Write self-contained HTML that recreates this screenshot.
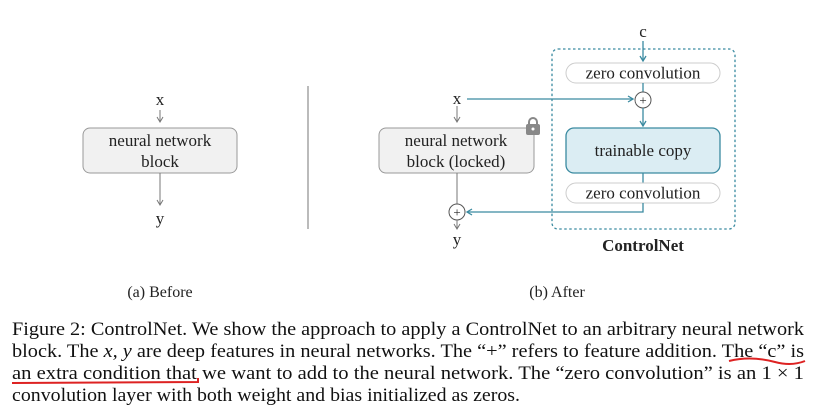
<!DOCTYPE html>
<html><head><meta charset="utf-8"><style>
html,body{margin:0;padding:0;background:#fff;}
svg{display:block;}
text{font-family:"Liberation Serif",serif;}
</style></head><body>
<svg width="829" height="419" viewBox="0 0 829 419" xmlns="http://www.w3.org/2000/svg">
<defs>
<marker id="ag" markerWidth="8" markerHeight="8" refX="6" refY="4" orient="auto" markerUnits="userSpaceOnUse"><path d="M1,1 L6,4 L1,7" fill="none" stroke="#777" stroke-width="1"/></marker>
<marker id="ab" markerWidth="8" markerHeight="8" refX="6" refY="4" orient="auto" markerUnits="userSpaceOnUse"><path d="M1,1 L6,4 L1,7" fill="none" stroke="#3a8aa0" stroke-width="1.3"/></marker>
</defs>
<g font-size="17" fill="#222" text-anchor="middle">
<!-- Left panel -->
<text x="160" y="105">x</text>
<line x1="160" y1="110" x2="160" y2="122" stroke="#777" stroke-width="1" marker-end="url(#ag)"/>
<rect x="83" y="128" width="154" height="45" rx="7" fill="#f1f1f1" stroke="#999" stroke-width="1"/>
<text x="160" y="146">neural network</text>
<text x="160" y="167">block</text>
<line x1="160" y1="173" x2="160" y2="205" stroke="#777" stroke-width="1" marker-end="url(#ag)"/>
<text x="160" y="224">y</text>
<line x1="308" y1="86" x2="308" y2="229" stroke="#777" stroke-width="1"/>
<text x="160" y="297" font-size="16">(a) Before</text>
<!-- Right panel -->
<rect x="552" y="49" width="183" height="180" rx="6" fill="none" stroke="#3a8aa0" stroke-width="1.3" stroke-dasharray="2.5,2.5"/>
<text x="643" y="37">c</text>
<line x1="643" y1="41" x2="643" y2="61" stroke="#3a8aa0" stroke-width="1.3" marker-end="url(#ab)"/>
<rect x="566" y="63" width="154" height="20" rx="10" fill="#fff" stroke="#ccc" stroke-width="1"/>
<text x="643" y="78.5">zero convolution</text>
<line x1="643" y1="83" x2="643" y2="92" stroke="#3a8aa0" stroke-width="1.3"/>
<text x="457" y="104">x</text>
<line x1="467" y1="99" x2="633" y2="99" stroke="#3a8aa0" stroke-width="1.3" marker-end="url(#ab)"/>
<circle cx="643" cy="100" r="8" fill="#fff" stroke="#555" stroke-width="1"/>
<text x="643" y="104.5" font-size="13">+</text>
<line x1="643" y1="108" x2="643" y2="126" stroke="#3a8aa0" stroke-width="1.3" marker-end="url(#ab)"/>
<rect x="566" y="128" width="154" height="45" rx="8" fill="#dbedf3" stroke="#3a8aa0" stroke-width="1.3"/>
<text x="643" y="156">trainable copy</text>
<line x1="643" y1="173" x2="643" y2="183" stroke="#3a8aa0" stroke-width="1.3"/>
<rect x="566" y="183" width="154" height="20" rx="10" fill="#fff" stroke="#ccc" stroke-width="1"/>
<text x="643" y="198.5">zero convolution</text>
<polyline points="643,203 643,212 467,212" fill="none" stroke="#3a8aa0" stroke-width="1.3" marker-end="url(#ab)"/>
<line x1="457" y1="106" x2="457" y2="122" stroke="#777" stroke-width="1" marker-end="url(#ag)"/>
<rect x="379" y="128" width="155" height="45" rx="7" fill="#f1f1f1" stroke="#999" stroke-width="1"/>
<text x="456" y="146">neural network</text>
<text x="456" y="167">block (locked)</text>
<!-- lock -->
<path d="M529,125 v-3 a4,4 0 0 1 8,0 v3" fill="none" stroke="#888" stroke-width="2"/>
<rect x="526" y="124" width="14" height="11" rx="2" fill="#888"/>
<circle cx="533" cy="129" r="1.5" fill="#fff"/>
<line x1="457" y1="173" x2="457" y2="204" stroke="#777" stroke-width="1"/>
<circle cx="457" cy="212" r="8" fill="#fff" stroke="#555" stroke-width="1"/>
<text x="457" y="216.5" font-size="13">+</text>
<line x1="457" y1="220" x2="457" y2="229" stroke="#777" stroke-width="1" marker-end="url(#ag)"/>
<text x="457" y="245">y</text>
<text x="643" y="251" font-weight="bold">ControlNet</text>
<text x="557" y="297" font-size="16">(b) After</text>
</g>
<!-- caption -->
<g font-size="19" fill="#111">
<text x="12" y="335" textLength="792" lengthAdjust="spacingAndGlyphs">Figure 2: ControlNet. We show the approach to apply a ControlNet to an arbitrary neural network</text>
<text x="12" y="357" textLength="792" lengthAdjust="spacingAndGlyphs">block. The <tspan font-style="italic">x, y</tspan> are deep features in neural networks. The “+” refers to feature addition. The “c” is</text>
<text x="12" y="379" textLength="792" lengthAdjust="spacingAndGlyphs">an extra condition that we want to add to the neural network. The “zero convolution” is an 1 × 1</text>
<text x="12" y="401" textLength="508" lengthAdjust="spacingAndGlyphs">convolution layer with both weight and bias initialized as zeros.</text>
</g>
<path d="M729,361 C745,357 760,358 775,362 S800,363 805,361" fill="none" stroke="#d22" stroke-width="2"/>
<path d="M12,383 L198,382 L198,378" fill="none" stroke="#d22" stroke-width="2"/>
</svg>
</body></html>
